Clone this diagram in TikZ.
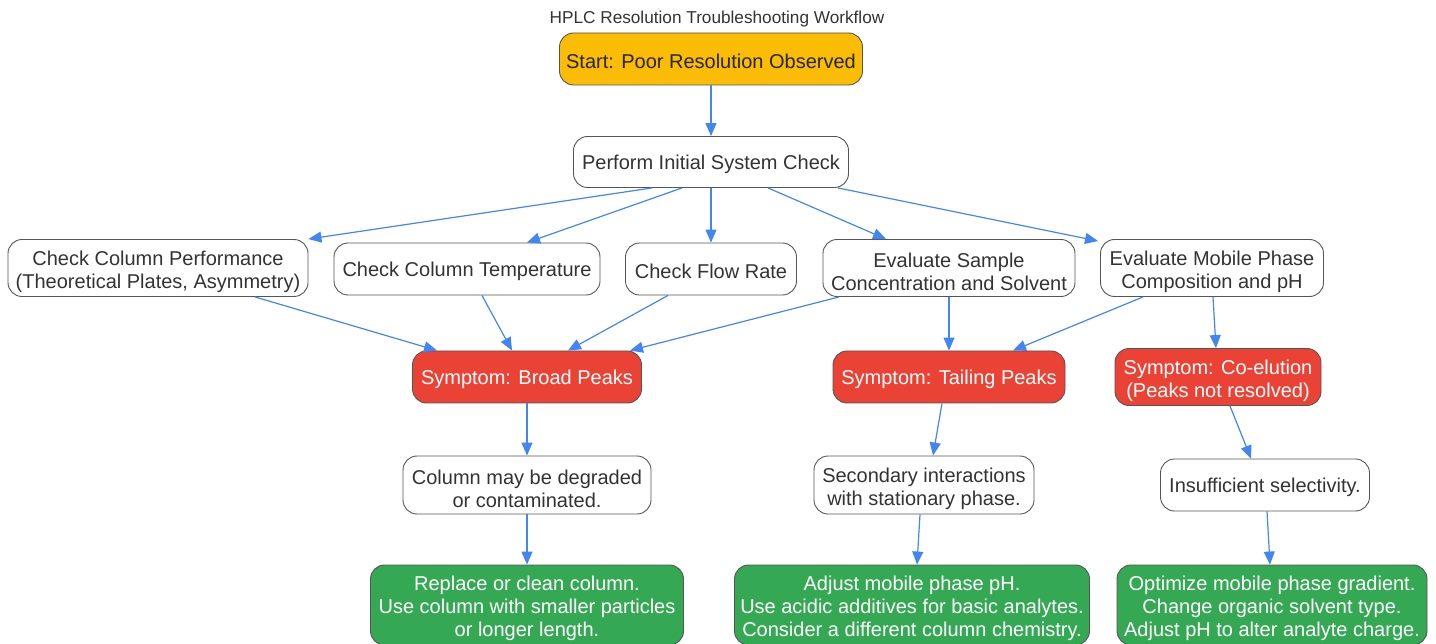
\documentclass[tikz,border=0pt]{standalone}
\usepackage{fontspec}
\setmainfont{Liberation Sans}
\usetikzlibrary{arrows.meta,calc}
\definecolor{yellowc}{HTML}{FBBC05}
\definecolor{redc}{HTML}{EA4335}
\definecolor{greenc}{HTML}{34A853}
\definecolor{bluec}{HTML}{4285F4}
\definecolor{edgec}{HTML}{555555}
\definecolor{textc}{HTML}{333333}
\begin{document}
\begin{tikzpicture}[x=1pt,y=-1pt,
  box/.style={draw=edgec, rounded corners=14pt, align=center, inner sep=0pt,
    font=\fontsize{20}{23}\selectfont, text=textc, line width=0.9pt, fill=white},
  lone/.style={execute at begin node={\rule{0pt}{20pt}}},
  ltwo/.style={execute at begin node={\rule{0pt}{45.5pt}}},
  lthree/.style={execute at begin node={\rule{0pt}{66.5pt}}},
  sz/.style 2 args={minimum width=#1, minimum height=#2},
  startbox/.style={box, fill=yellowc, text=black!85},
  redbox/.style={box, fill=redc, text=white},
  greenbox/.style={box, fill=greenc, text=white},
  arr/.style={draw=bluec, line width=1.2pt, -{Triangle[length=13pt,width=11pt]}}
]
\useasboundingbox (0,0) rectangle (1436,644);
\node[font=\fontsize{17.2}{20}\selectfont, text=textc] (title) at (717,19) {HPLC Resolution Troubleshooting Workflow};
\node[startbox, lone, sz={303}{52}] (start) at (711,59) {Start: Poor Resolution Observed};
\node[box, lone, sz={275}{51}] (init) at (711,162) {Perform Initial System Check};
\node[box, ltwo, sz={300}{57}] (cp) at (158,268) {Check Column Performance\\(Theoretical Plates, Asymmetry)};
\node[box, lone, sz={266}{52}] (ct) at (467,269) {Check Column Temperature};
\node[box, lone, sz={171}{52}] (fr) at (711,269) {Check Flow Rate};
\node[box, ltwo, sz={252}{57}] (es) at (949,268) {Evaluate Sample\\Concentration and Solvent};
\node[box, ltwo, sz={223}{57}] (em) at (1212,268) {Evaluate Mobile Phase\\Composition and pH};
\node[redbox, lone, sz={229}{52}] (bp) at (527,377) {Symptom: Broad Peaks};
\node[redbox, lone, sz={232}{52}] (tp) at (949,377) {Symptom: Tailing Peaks};
\node[redbox, ltwo, sz={206}{57}] (ce) at (1218,377) {Symptom: Co-elution\\(Peaks not resolved)};
\node[box, ltwo, sz={248}{58}] (cd) at (527,485) {Column may be degraded\\or contaminated.};
\node[box, ltwo, sz={220}{58}] (si) at (924,485) {Secondary interactions\\with stationary phase.};
\node[box, lone, sz={209}{52}] (is) at (1265,485) {Insufficient selectivity.};
\node[greenbox, lthree, sz={313}{80}] (g1) at (527,605) {Replace or clean column.\\Use column with smaller particles\\or longer length.};
\node[greenbox, lthree, sz={355}{80}] (g2) at (912,605) {Adjust mobile phase pH.\\Use acidic additives for basic analytes.\\Consider a different column chemistry.};
\node[greenbox, lthree, sz={310}{80}] (g3) at (1272,605) {Optimize mobile phase gradient.\\Change organic solvent type.\\Adjust pH to alter analyte charge.};

\draw[arr] (start.south) -- (init.north);
\draw[arr] ($(init.south)+(-59,0)$) -- (cp.north east);
\draw[arr] ($(init.south)+(-29,0)$) -- ($(ct.north)+(60,0)$);
\draw[arr] (init.south) -- (fr.north);
\draw[arr] ($(init.south)+(57,0)$) -- ($(es.north)+(-63,0)$);
\draw[arr] ($(init.south)+(127,0)$) -- ($(em.north west)+(-2,2)$);
\draw[arr] ($(cp.south)+(97,0)$) -- ($(bp.north)+(-90,0)$);
\draw[arr] ($(ct.south)+(15,0)$) -- ($(bp.north)+(-15,0)$);
\draw[arr] ($(fr.south)+(-43,0)$) -- ($(bp.north)+(41,0)$);
\draw[arr] ($(es.south)+(-110,0)$) -- ($(bp.north)+(103,0)$);
\draw[arr] (es.south) -- (tp.north);
\draw[arr] ($(em.south)+(-69,0)$) -- ($(tp.north)+(64,0)$);
\draw[arr] ($(em.south)+(1,0)$) -- ($(ce.north)+(-2,0)$);
\draw[arr] (bp.south) -- (cd.north);
\draw[arr] ($(tp.south)+(-7,0)$) -- ($(si.north)+(9,0)$);
\draw[arr] ($(ce.south)+(12,0)$) -- ($(is.north)+(-14,0)$);
\draw[arr] (cd.south) -- (g1.north);
\draw[arr] ($(si.south)+(-4,0)$) -- ($(g2.north)+(5,0)$);
\draw[arr] ($(is.south)+(2,0)$) -- ($(g3.north)+(-2,0)$);
\end{tikzpicture}
\end{document}
